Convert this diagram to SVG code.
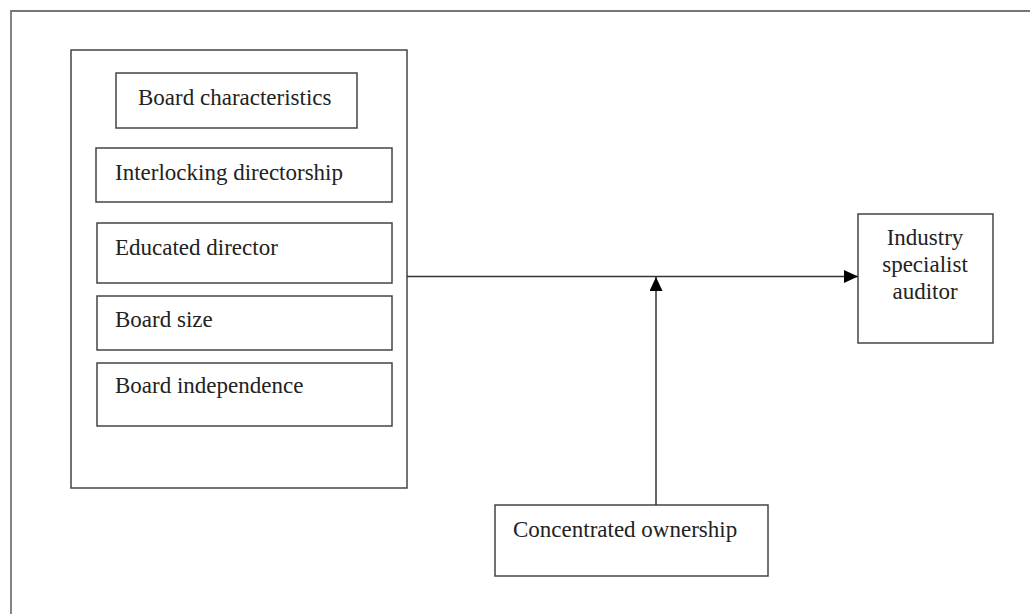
<svg xmlns="http://www.w3.org/2000/svg" width="1030" height="614" viewBox="0 0 1030 614">
  <style>
    .box { fill: #ffffff; stroke: #444444; stroke-width: 1.5; }
    .frame { fill: none; stroke: #777777; stroke-width: 1.8; }
    .lbl { font-family: "Liberation Serif", "Times New Roman", serif; font-size: 23px; fill: #222222; }
    .mid { text-anchor: middle; }
    .wire { fill: none; stroke: #333333; stroke-width: 1.5; }
  </style>
  <defs>
    <marker id="head" viewBox="0 0 14 13" refX="14" refY="6.5" markerWidth="14" markerHeight="13" markerUnits="userSpaceOnUse" orient="auto">
      <path d="M0,0 L14,6.5 L0,13 Z" fill="#000000"/>
    </marker>
  </defs>

  <rect width="1030" height="614" fill="#ffffff"/>

  <!-- outer page frame (open on the right and bottom) -->
  <path class="frame" d="M11,614 V11 H1030"/>

  <!-- board characteristics panel -->
  <g id="board-panel">
    <rect class="box" x="71" y="50" width="336" height="438"/>
  </g>
  <g id="board-characteristics">
    <rect class="box" x="116" y="73" width="241" height="55"/>
    <text class="lbl" x="138" y="105">Board characteristics</text>
  </g>
  <g id="interlocking-directorship">
    <rect class="box" x="96" y="148" width="296" height="54"/>
    <text class="lbl" x="115" y="180">Interlocking directorship</text>
  </g>
  <g id="educated-director">
    <rect class="box" x="97" y="223" width="295" height="60"/>
    <text class="lbl" x="115" y="255">Educated director</text>
  </g>
  <g id="board-size">
    <rect class="box" x="97" y="296" width="295" height="54"/>
    <text class="lbl" x="115" y="327">Board size</text>
  </g>
  <g id="board-independence">
    <rect class="box" x="97" y="363" width="295" height="63"/>
    <text class="lbl" x="115" y="393">Board independence</text>
  </g>

  <!-- outcome -->
  <g id="industry-specialist-auditor">
    <rect class="box" x="858" y="214" width="135" height="129"/>
    <text class="lbl mid" x="925" y="245">Industry</text>
    <text class="lbl mid" x="925" y="272">specialist</text>
    <text class="lbl mid" x="925" y="299">auditor</text>
  </g>

  <!-- moderator -->
  <g id="concentrated-ownership">
    <rect class="box" x="495" y="505" width="273" height="71"/>
    <text class="lbl" x="513" y="537">Concentrated ownership</text>
  </g>

  <!-- connectors -->
  <g id="connectors">
    <line class="wire" x1="407" y1="276.5" x2="858" y2="276.5" marker-end="url(#head)"/>
    <line class="wire" x1="656" y1="505" x2="656" y2="277" marker-end="url(#head)"/>
  </g>
</svg>
